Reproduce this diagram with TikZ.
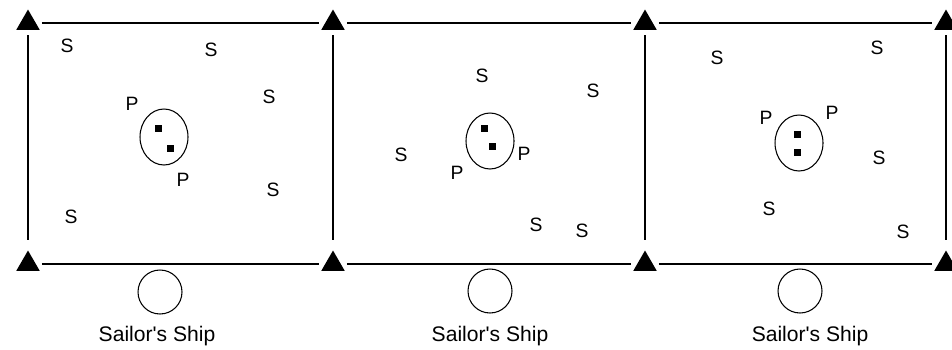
\documentclass[tikz,border=0pt]{standalone}
\usepackage{fontspec}
\setmainfont{Liberation Sans}[Ligatures=TeXOff]
\usetikzlibrary{shapes.geometric,positioning}

\begin{document}
\begin{tikzpicture}[x=0.02cm, y=-0.02cm,
  corner/.style={regular polygon, regular polygon sides=3, fill=black,
                 inner sep=0pt, minimum size=0.54cm, outer sep=3pt},
  edge/.style={line width=0.7pt},
  pod/.style={draw, ellipse, line width=0.6pt, inner sep=0pt,
              minimum width=0.96cm, minimum height=1.12cm},
  crew/.style={fill=black, inner sep=0pt, minimum size=0.14cm},
  ship/.style={draw, circle, line width=0.6pt, inner sep=0pt,
               minimum size=0.88cm},
  tag/.style={font=\fontsize{11}{13}\selectfont, inner sep=1pt},
  shipname/.style={font=\fontsize{12}{14}\selectfont, inner sep=1pt, anchor=base}
]
\useasboundingbox (0,0) rectangle (952,349);

% corners of the three areas
\node[corner] (t0) at (28,23) {};
\node[corner] (t1) at (333,23) {};
\node[corner] (t2) at (645,23) {};
\node[corner] (t3) at (946,23) {};
\node[corner] (b0) at (28,264) {};
\node[corner] (b1) at (333,264) {};
\node[corner] (b2) at (645,264) {};
\node[corner] (b3) at (946,264) {};

\draw[edge] (t0) -- (t1);
\draw[edge] (t1) -- (t2);
\draw[edge] (t2) -- (t3);
\draw[edge] (b0) -- (b1);
\draw[edge] (b1) -- (b2);
\draw[edge] (b2) -- (b3);
\draw[edge] (t0) -- (b0);
\draw[edge] (t1) -- (b1);
\draw[edge] (t2) -- (b2);
\draw[edge] (t3) -- (b3);

% first area
\node[tag] (s1a) at (67,46) {S};
\node[tag] (s1b) at (211,50) {S};
\node[tag] (s1c) at (269,97) {S};
\node[tag] (s1d) at (273,190) {S};
\node[tag] (s1e) at (71,217) {S};
\node[tag] (p1a) at (132,104) {P};
\node[tag] (p1b) at (183,180) {P};
\node[pod] (pod1) at (164,137) {};
\node[crew] (c1a) at (158,128) {};
\node[crew] (c1b) at (170,148) {};
\node[ship] (ship1) at (160,292) {};
\node[shipname] (name1) at (157,341) {Sailor's Ship};

% second area
\node[tag] (s2a) at (482,76) {S};
\node[tag] (s2b) at (593,91) {S};
\node[tag] (s2c) at (401,155) {S};
\node[tag] (s2d) at (536,225) {S};
\node[tag] (s2e) at (582,231) {S};
\node[tag] (p2a) at (457,173) {P};
\node[tag] (p2b) at (524,154) {P};
\node[pod] (pod2) at (490,141) {};
\node[crew] (c2a) at (484,128) {};
\node[crew] (c2b) at (492,146) {};
\node[ship] (ship2) at (490,291) {};
\node[shipname] (name2) at (490,341) {Sailor's Ship};

% third area
\node[tag] (s3a) at (717,58) {S};
\node[tag] (s3b) at (877,48) {S};
\node[tag] (s3c) at (879,158) {S};
\node[tag] (s3d) at (769,209) {S};
\node[tag] (s3e) at (903,232) {S};
\node[tag] (p3a) at (766,118) {P};
\node[tag] (p3b) at (832,113) {P};
\node[pod] (pod3) at (799,143) {};
\node[crew] (c3a) at (797,134) {};
\node[crew] (c3b) at (797,152) {};
\node[ship] (ship3) at (800,291) {};
\node[shipname] (name3) at (810,341) {Sailor's Ship};

\end{tikzpicture}
\end{document}
